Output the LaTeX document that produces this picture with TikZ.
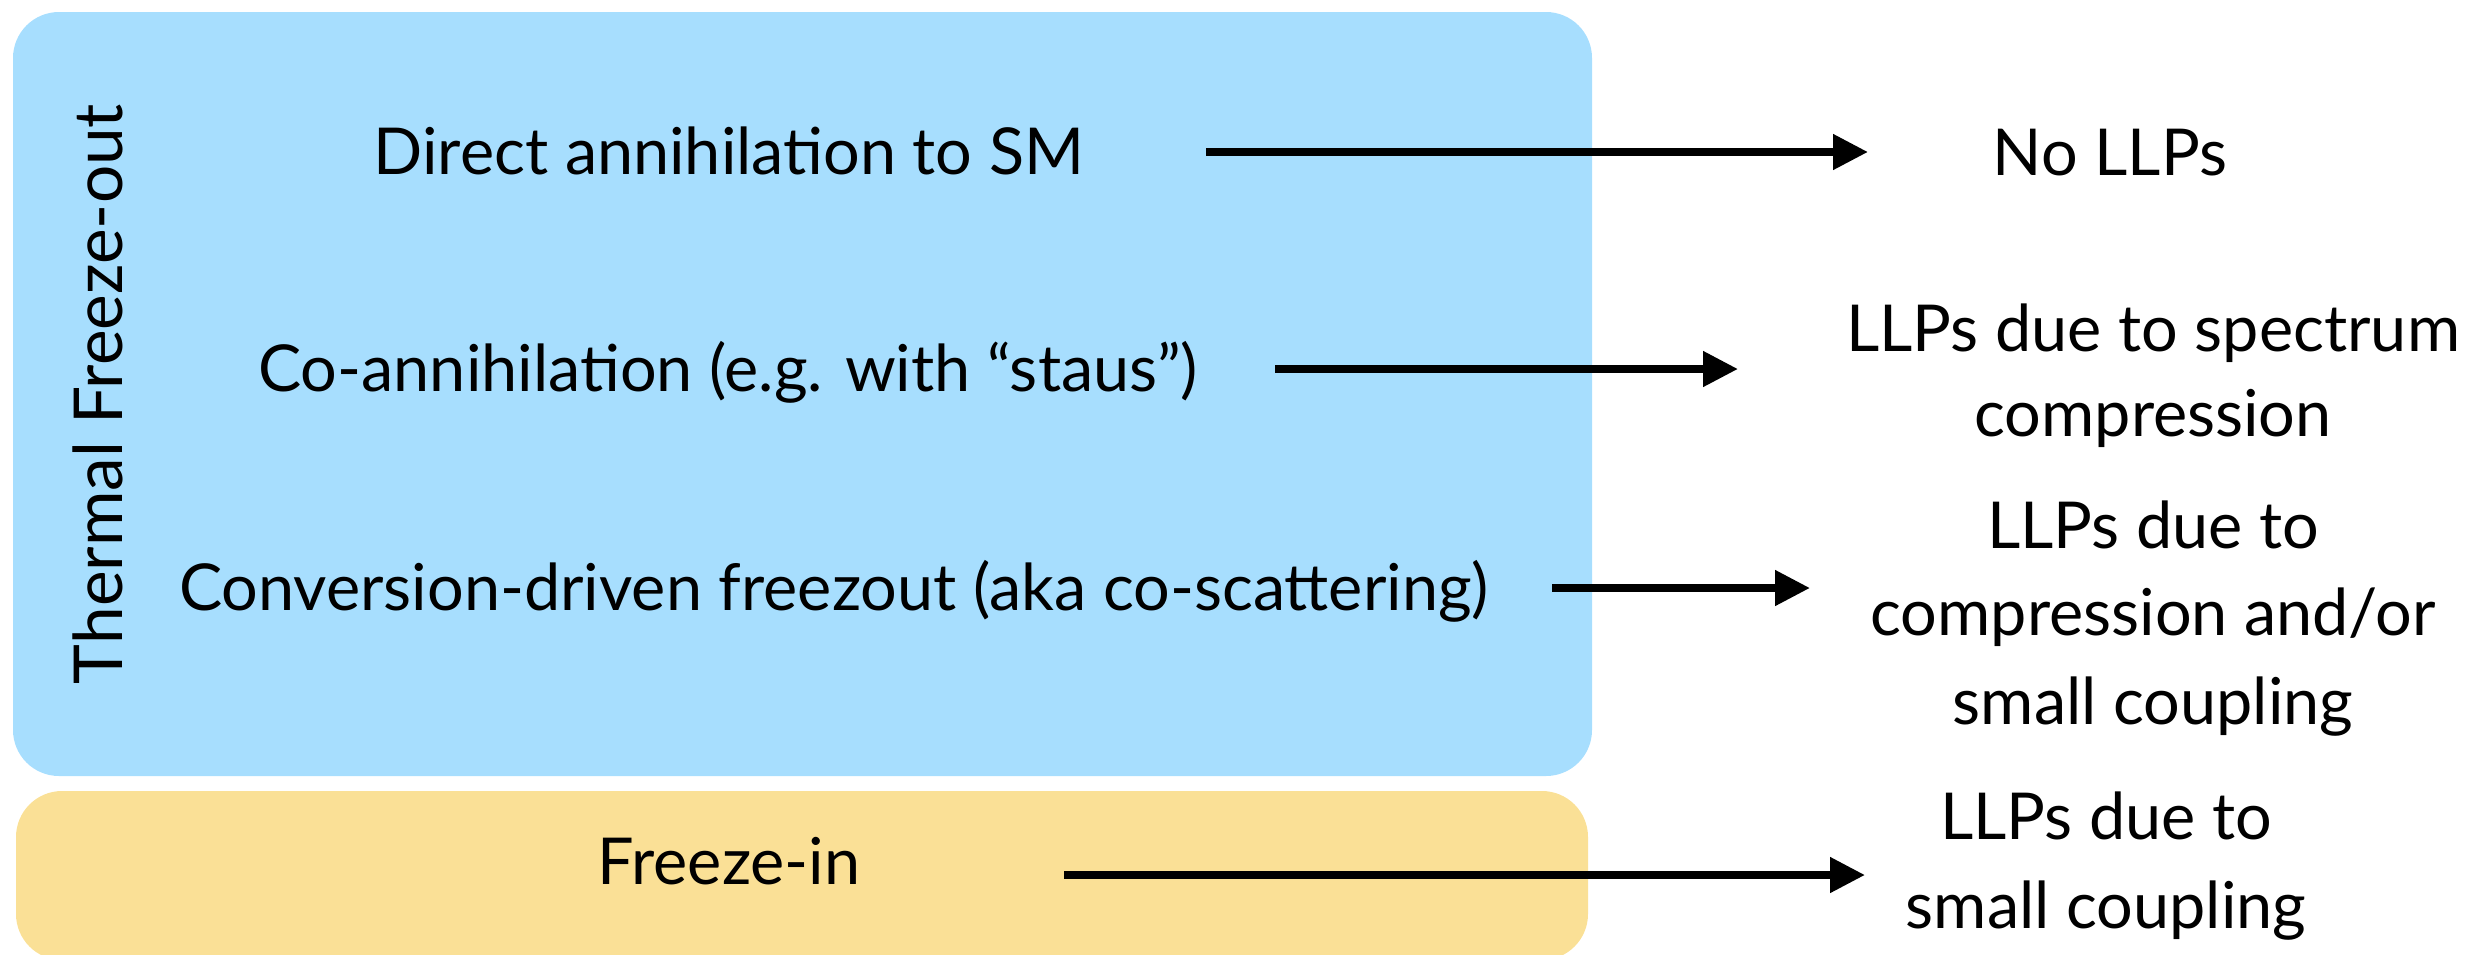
\documentclass[tikz,border=0pt]{standalone}
\usepackage{fontspec}
\setmainfont{Lato}
\usetikzlibrary{arrows.meta}
\definecolor{outblue}{HTML}{A7DEFE}
\definecolor{inyellow}{HTML}{FAE096}
\tikzset{
  txt/.style={font=\fontsize{18.4}{25}\selectfont, inner sep=0pt, anchor=base, text=black},
  flow/.style={line width=2.2pt, -{Triangle[length=0.35cm,width=0.34cm]}},
  panel/.style={rounded corners=0.46cm},
}
\begin{document}
\begin{tikzpicture}[x=0.01cm,y=-0.01cm]
\useasboundingbox (0,0) rectangle (2479,954);
\clip (0,0) rectangle (2479,954);

% background panels
\fill[outblue,panel] (13,12) rectangle (1592,776);
\fill[inyellow,panel] (16,791) rectangle (1588,960);

% mechanisms
\node[txt, anchor=center, rotate=90, font=\fontsize{19.2}{25}\selectfont] (thermal) at (98,394) {Thermal Freeze-out};
\node[txt] (direct) at (729,174) {Direct annihilation to SM};
\node[txt] (coann) at (728,391) {Co-annihilation (e.g. with “staus”)};
\node[txt] (conv) at (834,610) {Conversion-driven freezout (aka co-scattering)};
\node[txt] (fin) at (729,884) {Freeze-in};

% consequences
\node[txt] (nollp) at (2110,175) {No LLPs};
\node[txt] (spec1) at (2153,351) {LLPs due to spectrum};
\node[txt] (spec2) at (2153,436) {compression};
\node[txt] (comp1) at (2153,548) {LLPs due to};
\node[txt] (comp2) at (2153,635) {compression and/or};
\node[txt] (comp3) at (2153,724) {small coupling};
\node[txt] (small1) at (2106,839) {LLPs due to};
\node[txt] (small2) at (2106,928) {small coupling};

% arrow end points
\coordinate (a1s) at (1206,152);
\coordinate (a1e) at (1868,152);
\coordinate (a2s) at (1275,369);
\coordinate (a2e) at (1738,369);
\coordinate (a3s) at (1552,588);
\coordinate (a3e) at (1810,588);
\coordinate (a4s) at (1064,875);
\coordinate (a4e) at (1865,875);

\draw[flow] (a1s) -- (a1e);
\draw[flow] (a2s) -- (a2e);
\draw[flow] (a3s) -- (a3e);
\draw[flow] (a4s) -- (a4e);
\end{tikzpicture}
\end{document}
